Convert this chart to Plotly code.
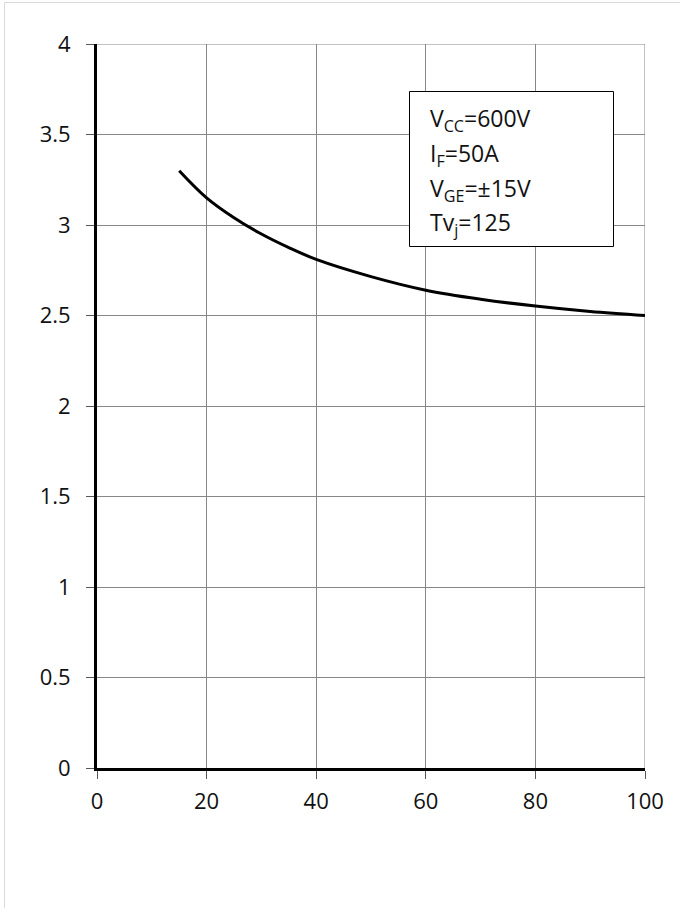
import plotly.graph_objects as go

# Curve samples (x, y)
x_vals = [15, 20, 25, 30, 35, 40, 50, 60, 70, 80, 90, 100]
y_vals = [3.30, 3.15, 3.04, 2.95, 2.875, 2.81, 2.715, 2.64, 2.59, 2.552, 2.522, 2.50]

x_ticks = [0, 20, 40, 60, 80, 100]
y_ticks = [0, 0.5, 1, 1.5, 2, 2.5, 3, 3.5, 4]
y_tick_text = ["0", "0.5", "1", "1.5", "2", "2.5", "3", "3.5", "4"]

conditions = [
    "V<sub>CC</sub>=600V",
    "I<sub>F</sub>=50A",
    "V<sub>GE</sub>=±15V",
    "Tv<sub>j</sub>=125",
]

W, H = 680, 908
L, R, T, B = 97, 35, 44, 140
PW, PH = W - L - R, H - T - B


def px_to_paper_x(px):
    return (px - L) / PW


def px_to_paper_y(py):
    return 1 - (py - T) / PH


FONT = "Open Sans"
GRID = "#878787"
TEXT = "#111111"

fig = go.Figure()
fig.add_trace(go.Scatter(
    x=x_vals, y=y_vals, mode="lines",
    line=dict(color="black", width=3, shape="spline", smoothing=1.0),
    showlegend=False, hoverinfo="skip",
))

axis_common = dict(
    showgrid=True, gridcolor=GRID, gridwidth=1,
    showline=True, linecolor="black", linewidth=3,
    ticks="outside", ticklen=8, tickwidth=1, tickcolor="#595959",
    zeroline=False,
    tickfont=dict(family=FONT, size=22, color=TEXT),
)

fig.update_layout(
    width=W, height=H,
    margin=dict(l=L, r=R, t=T, b=B, pad=0),
    paper_bgcolor="white", plot_bgcolor="white",
    xaxis=dict(range=[0, 100], tickvals=x_ticks, ticklabelstandoff=4, **axis_common),
    yaxis=dict(range=[0, 4], tickvals=y_ticks, ticktext=y_tick_text,
               ticklabelstandoff=11, **axis_common),
)

# Top and right border of the plot area in grid colour
fig.add_shape(type="line", xref="x", yref="y", x0=0, x1=100, y0=4, y1=4,
              line=dict(color=GRID, width=1), layer="below")
fig.add_shape(type="line", xref="x", yref="y", x0=100, x1=100, y0=0, y1=4,
              line=dict(color=GRID, width=1), layer="below")

# Light outer frame
fig.add_shape(type="rect", xref="paper", yref="paper",
              x0=px_to_paper_x(4.5), x1=px_to_paper_x(W + 5),
              y0=px_to_paper_y(H + 5), y1=px_to_paper_y(2.5),
              line=dict(color="#d9d9d9", width=1), fillcolor="rgba(0,0,0,0)",
              layer="above")

# Conditions box
fig.add_shape(type="rect", xref="paper", yref="paper",
              x0=px_to_paper_x(409.5), x1=px_to_paper_x(613.5),
              y0=px_to_paper_y(246.5), y1=px_to_paper_y(91.5),
              line=dict(color="black", width=1), fillcolor="white",
              layer="above")

line_centers = [120, 155, 189, 223]
for txt, cy in zip(conditions, line_centers):
    fig.add_annotation(
        text=txt, xref="paper", yref="paper",
        x=px_to_paper_x(428), y=px_to_paper_y(cy),
        xanchor="left", yanchor="middle", showarrow=False,
        font=dict(family=FONT, size=23, color=TEXT),
    )

fig.write_html("out.html")
